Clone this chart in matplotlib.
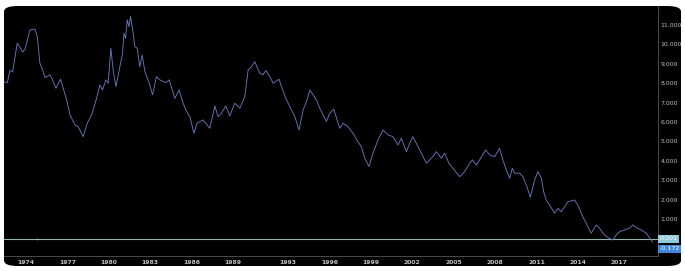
import matplotlib.pyplot as plt
from matplotlib.patches import FancyBboxPatch
from matplotlib.transforms import blended_transform_factory

# decimal year -> 10y yield (%)
years = [
    1972.41, 1972.65, 1972.84, 1973.04, 1973.37, 1973.60, 1973.76, 1973.93, 1974.29, 1974.65,
    1974.82, 1975.01, 1975.25, 1975.38, 1975.74, 1975.98, 1976.17, 1976.51, 1976.70, 1976.95,
    1977.19, 1977.55, 1977.79, 1978.15, 1978.44, 1978.76, 1979.12, 1979.36, 1979.55, 1979.79,
    1979.96, 1980.15, 1980.32, 1980.52, 1980.81, 1981.00, 1981.10, 1981.22, 1981.34, 1981.46,
    1981.58, 1981.77, 1981.89, 1982.06, 1982.25, 1982.42, 1982.62, 1982.93, 1983.17, 1983.46,
    1983.70, 1984.14, 1984.38, 1984.79, 1985.10, 1985.39, 1985.64, 1985.88, 1986.17, 1986.40,
    1986.84, 1987.32, 1987.69, 1987.92, 1988.17, 1988.48, 1988.77, 1989.13, 1989.50, 1989.86,
    1990.10, 1990.34, 1990.58, 1990.94, 1991.18, 1991.38, 1991.67, 1991.91, 1992.34, 1992.52,
    1992.83, 1993.12, 1993.48, 1993.79, 1994.08, 1994.33, 1994.57, 1995.05, 1995.29, 1995.77,
    1996.01, 1996.30, 1996.74, 1996.98, 1997.34, 1997.70, 1998.06, 1998.31, 1998.55, 1998.86,
    1999.15, 1999.51, 1999.87, 2000.23, 2000.60, 2000.96, 2001.20, 2001.57, 2001.81, 2002.04,
    2002.65, 2003.02, 2003.49, 2003.74, 2004.10, 2004.34, 2004.65, 2004.94, 2005.43, 2005.79,
    2006.15, 2006.35, 2006.64, 2006.87, 2007.31, 2007.60, 2007.96, 2008.32, 2008.56, 2008.81,
    2009.05, 2009.24, 2009.41, 2009.77, 2010.01, 2010.30, 2010.55, 2010.86, 2011.10, 2011.35,
    2011.51, 2011.70, 2011.94, 2012.31, 2012.55, 2012.79, 2013.27, 2013.75, 2013.99, 2014.35,
    2014.60, 2014.96, 2015.32, 2015.56, 2015.92, 2016.28, 2016.52, 2016.77, 2017.01, 2017.37,
    2017.73, 2017.99, 2018.28, 2018.60, 2018.95, 2019.31, 2019.40,
]
yields = [
    8.06, 8.03, 8.65, 8.60, 10.06, 9.80, 9.60, 9.75, 10.74, 10.78,
    10.40, 9.03, 8.60, 8.29, 8.43, 8.08, 7.74, 8.20, 7.74, 7.14,
    6.37, 5.85, 5.76, 5.25, 5.94, 6.37, 7.22, 7.91, 7.65, 8.17,
    8.00, 9.80, 8.68, 7.82, 8.85, 9.54, 10.57, 10.30, 11.26, 10.91,
    11.43, 10.57, 9.88, 9.80, 8.85, 9.45, 8.60, 8.00, 7.40, 8.34,
    8.17, 8.03, 8.17, 7.22, 7.65, 6.97, 6.54, 6.28, 5.42, 5.94,
    6.11, 5.68, 6.83, 6.28, 6.45, 6.83, 6.32, 6.97, 6.71, 7.31,
    8.68, 8.85, 9.11, 8.51, 8.43, 8.65, 8.34, 8.00, 8.20, 7.82,
    7.22, 6.79, 6.28, 5.59, 6.62, 7.05, 7.65, 7.14, 6.71, 6.03,
    6.45, 6.66, 5.68, 5.94, 5.76, 5.42, 4.99, 4.73, 4.14, 3.71,
    4.40, 5.08, 5.59, 5.34, 5.25, 4.82, 5.17, 4.48, 4.91, 5.25,
    4.40, 3.88, 4.22, 4.48, 4.14, 4.40, 3.88, 3.62, 3.19, 3.45,
    3.88, 4.05, 3.79, 4.05, 4.57, 4.31, 4.22, 4.65, 4.05, 3.54,
    3.11, 3.62, 3.37, 3.37, 3.19, 2.68, 2.13, 3.02, 3.45, 3.11,
    2.42, 1.99, 1.73, 1.31, 1.56, 1.39, 1.90, 1.99, 1.73, 1.13,
    0.79, 0.28, 0.71, 0.54, 0.19, 0.02, -0.07, 0.19, 0.36, 0.45,
    0.54, 0.71, 0.54, 0.45, 0.28, -0.07, -0.17,
]

tick_years = [1974, 1977, 1980, 1983, 1986, 1989, 1993, 1996, 1999, 2002, 2005, 2008, 2011, 2014, 2017]
y_ticks = [1, 2, 3, 4, 5, 6, 7, 8, 9, 10, 11]
ref_level = 0.001
last_value = -0.172
marker_year = 1974.8

W, H = 685, 271
fig = plt.figure(figsize=(W / 100, H / 100), dpi=100)
fig.patch.set_facecolor("white")

# black rounded panel behind the axes
panel = FancyBboxPatch((4 / W, 5 / H), 677 / W, 260 / H,
                       boxstyle="round,pad=0,rounding_size=0.02",
                       transform=fig.transFigure, facecolor="black",
                       edgecolor="none", zorder=-10)
fig.patches.append(panel)

ax = fig.add_axes([4 / W, 15 / H, 654 / W, 250 / H])
ax.set_zorder(5)
ax.set_facecolor("none")

ax.plot(years, yields, color="#6676b8", lw=0.65, zorder=3)
ax.axhline(ref_level, color="#8fb5ad", lw=0.8, zorder=2)
ax.plot([marker_year], [ref_level], marker="o", ms=1.2, color="#bbbbbb", mew=0, zorder=4)

ax.set_xlim(1972.41, 2019.8)
ax.set_ylim(-0.89, 11.97)

ax.yaxis.tick_right()
ax.set_yticks(y_ticks)
ax.set_yticklabels([f"{v:.3f}" for v in y_ticks])
ax.set_xticks(tick_years)
ax.set_xticklabels([str(y) for y in tick_years], fontweight="bold")
ax.tick_params(axis="both", length=0, labelsize=4.4, colors="#c0c0c0")
ax.tick_params(axis="y", pad=2)
ax.tick_params(axis="x", pad=3)

for side in ("top", "left"):
    ax.spines[side].set_visible(False)
for side in ("right", "bottom"):
    ax.spines[side].set_color("#4a4a4a")
    ax.spines[side].set_linewidth(0.7)

trans = blended_transform_factory(ax.transAxes, ax.transData)
ax.text(1.002, ref_level, f"{ref_level:.3f}", transform=trans, ha="left", va="center",
        fontsize=4.6, color="white",
        bbox=dict(boxstyle="square,pad=0.25", fc="#8fc9dc", ec="none"), zorder=5)
ax.text(1.002, last_value - 0.35, f"{last_value:.3f}", transform=trans, ha="left", va="center",
        fontsize=4.6, color="white",
        bbox=dict(boxstyle="square,pad=0.25", fc="#3f86dc", ec="none"), zorder=5)

fig.savefig("out.png", dpi=100, facecolor=fig.get_facecolor())
